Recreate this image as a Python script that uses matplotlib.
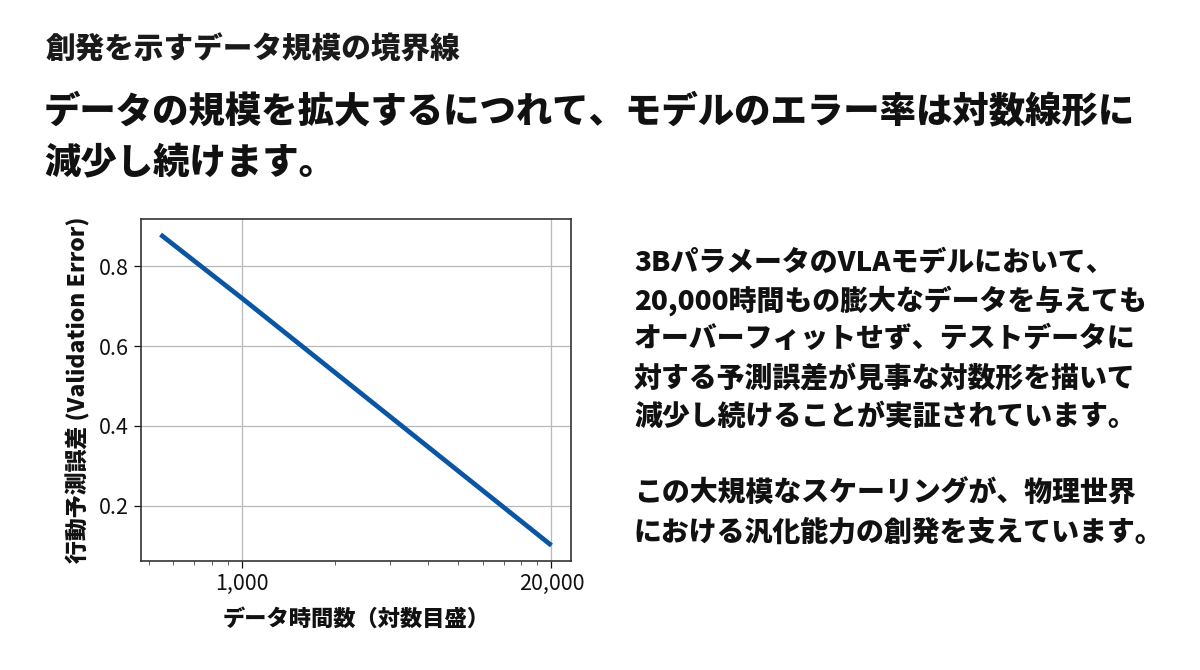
import matplotlib
matplotlib.use("Agg")
import matplotlib.pyplot as plt
from matplotlib.ticker import FixedLocator, FixedFormatter, LogLocator, NullFormatter

plt.rcParams['font.family'] = ['Noto Sans CJK JP', 'DejaVu Sans']

# ---- data ----
hours = [545, 1000, 10000]
val_error = [0.88, 0.72, 0.10]
xtick_pos = [1000, 10000]
xtick_labels = ['1,000', '20,000']
ytick_pos = [0.2, 0.4, 0.6, 0.8]

title_small = '創発を示すデータ規模の境界線'
headline = ['データの規模を拡大するにつれて、モデルのエラー率は対数線形に', '減少し続けます。']
body_lines = ['3BパラメータのVLAモデルにおいて、',
              '20,000時間もの膨大なデータを与えても',
              'オーバーフィットせず、テストデータに',
              '対する予測誤差が見事な対数形を描いて',
              '減少し続けることが実証されています。',
              '',
              'この大規模なスケーリングが、物理世界',
              'における汎化能力の創発を支えています。']

W, H = 1200, 670
fig = plt.figure(figsize=(W / 100, H / 100), dpi=100)
fig.patch.set_facecolor('white')

def fx(px):
    return px / W

def fy(py):
    return 1 - py / H

fig.text(fx(46), fy(50), title_small, fontsize=21.3, fontweight='black', color='#1a1a1a', va='center', ha='left')
for i, line in enumerate(headline):
    fig.text(fx(44), fy(111 + i * 51), line, fontsize=26.2, fontweight='black', color='#111111', va='center', ha='left')

for i, line in enumerate(body_lines):
    if line:
        fig.text(fx(634), fy(262 + i * 38.6), line, fontsize=20.1, fontweight='heavy', color='#111111', va='center', ha='left')

ax = fig.add_axes([fx(141), fy(561), fx(571) - fx(141), fy(219) - fy(561)])
ax.plot(hours, val_error, color='#0b56a3', lw=3.4, solid_capstyle='butt')
ax.set_xscale('log')
ax.xaxis.set_major_locator(FixedLocator(xtick_pos))
ax.xaxis.set_major_formatter(FixedFormatter(xtick_labels))
ax.xaxis.set_minor_locator(LogLocator(base=10, subs=[2, 3, 4, 5, 6, 7, 8, 9]))
ax.xaxis.set_minor_formatter(NullFormatter())
ax.set_yticks(ytick_pos)
ax.set_yticklabels([f'{v:.1f}' for v in ytick_pos])
ax.grid(True, which='major', color='#b8b8b8', lw=0.9)
ax.set_axisbelow(True)
ax.tick_params(axis='both', which='major', labelsize=15.5, colors='#111111', length=5, width=0.9)
ax.tick_params(axis='x', which='minor', length=3, width=0.6, colors='#444444')
for s in ax.spines.values():
    s.set_color('#333333')
    s.set_linewidth(1.2)
ax.set_xlabel('データ時間数（対数目盛）', fontsize=16, fontweight='heavy', color='#111111', labelpad=9)
ax.set_ylabel('行動予測誤差 (Validation Error)', fontsize=16.5, fontweight='heavy', color='#111111', labelpad=6)

fig.savefig('out.png', dpi=100, facecolor='white')
